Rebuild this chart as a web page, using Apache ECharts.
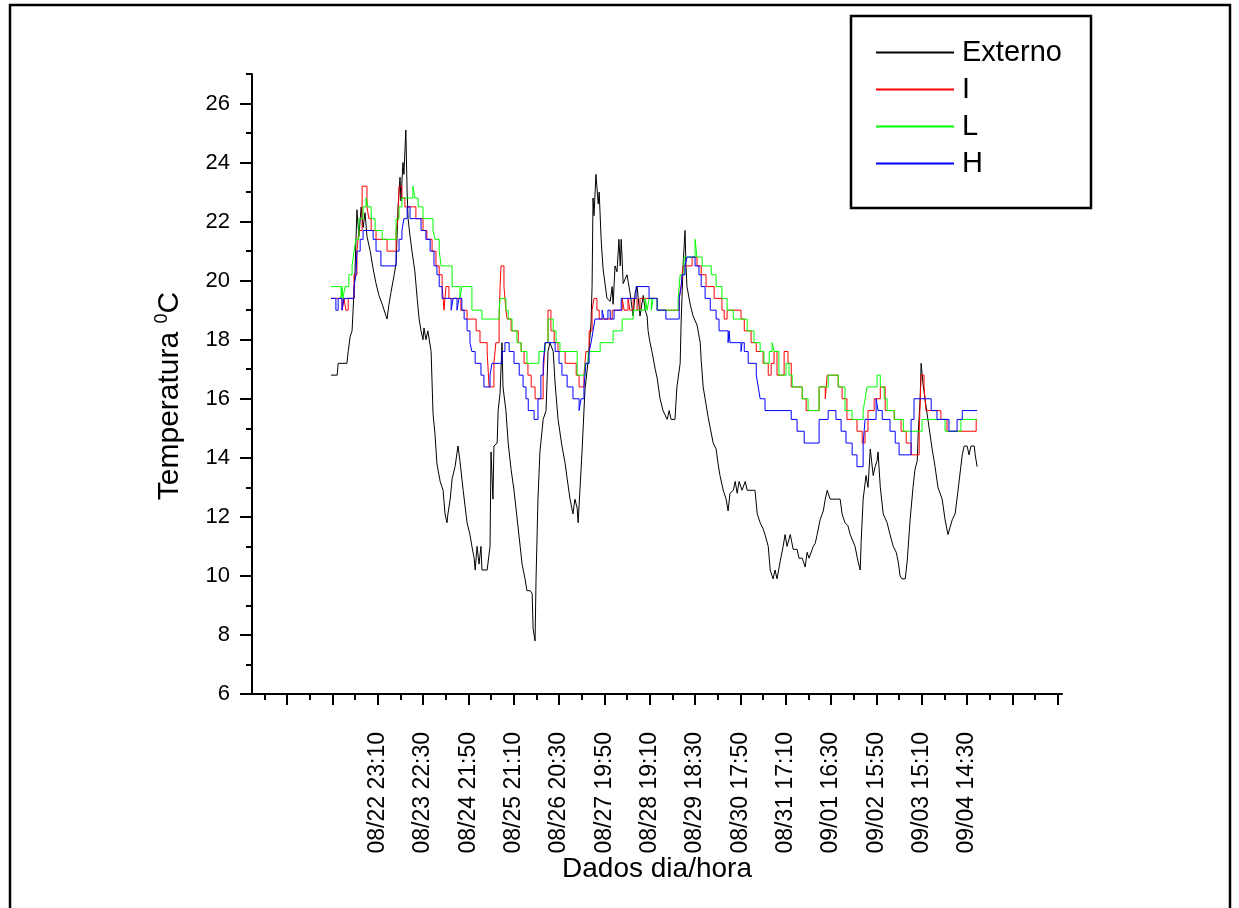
<!DOCTYPE html>
<html><head><meta charset="utf-8">
<script src="https://cdn.jsdelivr.net/npm/echarts@6/dist/echarts.min.js"></script>
<style>html,body{margin:0;padding:0;background:#fff}#c{width:1239px;height:908px}</style>
</head><body><div id="c"></div>
<script>
// x = sample index (10-minute samples); one labelled tick every 140 samples
const tickLabels = ["08/22 23:10","08/23 22:30","08/24 21:50","08/25 21:10","08/26 20:30","08/27 19:50","08/28 19:10","08/29 18:30","08/30 17:50","08/31 17:10","09/01 16:30","09/02 15:50","09/03 15:10","09/04 14:30"];
const labelTicks = [140,280,420,560,700,840,980,1120,1260,1400,1540,1680,1820,1960];
const majorTicksX = [-140,0,140,280,420,560,700,840,980,1120,1260,1400,1540,1680,1820,1960,2100,2240];
const minorTicksX = [-210,-70,70,210,350,490,630,770,910,1050,1190,1330,1470,1610,1750,1890,2030,2170];
const majorTicksY = [6,8,10,12,14,16,18,20,22,24,26];
const minorTicksY = [7,9,11,13,15,17,19,21,23,25,27];

const externo = [[-4,16.8],[15,16.8],[18,17.2],[45,17.2],[49,17.6],[55,18.1],[61,18.3],[70,20.3],[76,22.4],[82,21.5],[89,22.5],[95,21.8],[101,22.3],[107,21.5],[117,21.0],[126,20.4],[135,19.9],[144,19.5],[154,19.2],[163,18.9],[169,18.7],[175,19.2],[181,19.6],[191,20.2],[197,20.6],[203,22.5],[209,23.5],[212,22.7],[218,24.0],[221,23.6],[227,25.1],[231,23.0],[234,22.1],[240,21.5],[246,21.0],[255,20.3],[262,19.4],[268,18.7],[274,18.3],[280,18.0],[283,18.4],[289,18.0],[295,18.3],[305,17.6],[311,15.5],[317,14.8],[323,13.8],[333,13.2],[342,12.9],[348,12.1],[354,11.8],[357,12.1],[364,12.6],[370,13.3],[379,13.7],[388,14.4],[394,13.9],[404,12.9],[416,11.8],[425,11.4],[431,11.0],[438,10.6],[441,10.2],[447,11.0],[453,10.4],[459,11.0],[462,10.2],[478,10.2],[487,11.0],[490,14.2],[496,12.6],[499,14.4],[509,14.5],[512,15.6],[518,16.2],[524,17.9],[527,16.4],[536,15.6],[543,14.5],[552,13.6],[561,12.9],[570,12.0],[580,11.0],[586,10.4],[595,9.9],[601,9.5],[611,9.5],[617,9.4],[620,8.2],[626,7.8],[629,9.9],[635,12.6],[641,14.2],[651,15.3],[660,15.6],[666,17.6],[672,17.9],[682,17.6],[688,16.5],[697,15.3],[709,14.4],[719,13.8],[725,13.3],[734,12.6],[743,12.1],[749,12.6],[756,12.3],[759,11.8],[765,11.8],[771,14.2],[780,16.3],[790,17.3],[799,18.6],[802,19.8],[805,22.8],[808,22.2],[814,23.6],[821,22.6],[824,23.0],[830,21.4],[836,20.4],[842,19.9],[848,19.4],[858,19.3],[864,19.8],[867,19.2],[873,20.5],[879,20.3],[885,21.4],[889,20.5],[892,21.4],[895,20.7],[898,19.9],[910,20.2],[919,19.6],[929,18.8],[935,19.6],[941,19.8],[950,18.8],[960,19.5],[966,19.0],[972,18.8],[975,18.3],[981,17.9],[987,17.6],[997,17.0],[1003,16.7],[1012,16.0],[1021,15.6],[1034,15.3],[1040,15.6],[1046,15.3],[1058,15.3],[1064,16.4],[1074,17.2],[1077,18.6],[1083,20.5],[1089,21.7],[1092,20.5],[1095,19.8],[1105,19.2],[1114,18.8],[1126,18.5],[1136,17.9],[1139,17.3],[1145,16.4],[1151,16.0],[1160,15.4],[1167,15.0],[1176,14.5],[1185,14.3],[1191,13.8],[1197,13.4],[1207,12.9],[1216,12.6],[1222,12.2],[1228,12.8],[1238,12.9],[1244,13.2],[1250,12.8],[1256,13.2],[1265,12.9],[1275,13.2],[1281,12.9],[1296,12.9],[1305,12.9],[1312,12.1],[1321,11.8],[1330,11.6],[1336,11.4],[1346,11.0],[1352,10.2],[1361,9.9],[1367,10.2],[1373,9.9],[1383,10.5],[1392,11.0],[1398,11.4],[1404,11.0],[1414,11.4],[1423,10.9],[1435,10.9],[1441,10.6],[1451,10.6],[1460,10.3],[1466,10.8],[1472,10.6],[1485,11.0],[1491,11.1],[1497,11.4],[1506,11.9],[1516,12.2],[1522,12.6],[1528,12.9],[1537,12.6],[1568,12.6],[1574,12.1],[1583,11.8],[1592,11.7],[1599,11.4],[1614,11.0],[1623,10.5],[1630,10.2],[1633,11.2],[1639,12.6],[1648,13.4],[1654,13.0],[1661,14.3],[1670,13.4],[1676,13.7],[1682,13.9],[1685,14.2],[1692,13.0],[1701,12.1],[1713,11.8],[1722,11.4],[1732,11.0],[1741,10.8],[1747,10.5],[1753,10.0],[1759,9.9],[1769,9.9],[1775,10.5],[1784,11.9],[1793,13.0],[1799,13.6],[1806,13.9],[1809,14.8],[1815,16.0],[1818,17.2],[1824,16.5],[1830,16.0],[1839,15.3],[1852,14.3],[1861,13.7],[1870,13.0],[1883,12.6],[1892,11.9],[1901,11.4],[1914,11.9],[1923,12.1],[1932,12.9],[1945,14.1],[1951,14.4],[1960,14.4],[1966,14.1],[1972,14.4],[1982,14.4],[1985,14.1],[1991,13.7]];

// step series: each point = level starting at that sample
const serieI = [[-4,19.4],[30,19.0],[36,19.4],[42,19.0],[49,19.4],[67,20.2],[76,21.0],[82,21.7],[92,23.2],[107,22.5],[113,22.1],[120,21.7],[135,21.4],[169,21.0],[197,21.7],[203,22.1],[206,23.2],[215,22.8],[224,22.5],[258,22.1],[280,21.7],[292,21.4],[308,21.0],[320,20.5],[330,20.2],[339,19.8],[345,19.0],[351,19.8],[360,19.4],[397,19.0],[416,18.7],[444,18.3],[456,17.9],[478,17.6],[484,16.4],[499,17.2],[505,17.9],[515,18.7],[518,19.8],[521,20.5],[530,19.8],[536,19.0],[540,18.7],[552,18.3],[574,17.9],[583,17.6],[592,17.2],[604,16.8],[614,16.4],[626,16.0],[651,16.8],[657,17.9],[666,19.0],[675,18.3],[685,17.9],[697,17.6],[719,17.2],[753,16.8],[762,16.4],[777,16.8],[783,17.6],[793,18.3],[802,19.0],[808,19.4],[817,19.0],[824,18.7],[864,19.0],[895,19.4],[901,19.0],[913,19.4],[919,19.0],[929,19.4],[941,19.0],[950,19.4],[1003,19.0],[1071,19.4],[1077,19.8],[1083,20.5],[1111,20.8],[1126,20.5],[1139,20.2],[1154,19.8],[1179,19.4],[1203,19.0],[1210,18.7],[1219,19.0],[1262,18.7],[1272,18.3],[1293,17.9],[1309,17.6],[1330,17.2],[1346,16.8],[1355,17.2],[1364,17.6],[1373,16.8],[1395,17.6],[1407,17.2],[1417,16.4],[1451,16.0],[1463,15.6],[1503,16.4],[1522,16.0],[1528,16.8],[1562,16.4],[1574,16.0],[1589,15.3],[1620,14.9],[1636,14.5],[1645,14.9],[1654,15.6],[1673,16.0],[1692,16.4],[1707,15.6],[1735,15.3],[1756,14.9],[1772,14.5],[1787,14.1],[1812,14.9],[1818,16.8],[1827,16.4],[1833,15.6],[1879,15.3],[1898,14.9],[1988,15.3],[1991,15.3]];

const serieL = [[-4,19.8],[27,19.4],[30,19.8],[33,19.4],[39,19.8],[51,20.2],[61,20.5],[67,21.0],[73,21.4],[82,22.1],[95,22.5],[104,22.8],[110,22.5],[120,22.1],[132,21.7],[154,21.4],[197,22.1],[206,22.5],[215,22.8],[249,23.2],[255,22.8],[265,22.5],[280,22.1],[311,21.7],[317,21.4],[330,21.0],[336,20.5],[370,19.8],[394,19.4],[400,19.8],[431,19.0],[462,18.7],[515,19.0],[518,19.4],[536,19.0],[543,18.7],[555,18.3],[570,17.9],[583,17.6],[601,17.2],[638,17.6],[657,17.9],[666,18.7],[682,18.3],[691,17.9],[703,17.6],[756,16.8],[780,17.2],[790,17.6],[827,17.9],[867,18.3],[895,18.7],[929,19.0],[966,19.4],[972,19.0],[978,19.4],[985,19.0],[991,19.4],[1003,19.0],[1068,19.4],[1074,20.2],[1086,20.8],[1120,21.4],[1126,20.8],[1142,20.5],[1170,20.2],[1185,19.8],[1203,19.4],[1219,19.0],[1238,18.7],[1281,18.3],[1302,17.9],[1321,17.6],[1333,17.2],[1349,17.6],[1358,17.9],[1364,17.6],[1379,16.8],[1401,17.2],[1410,16.8],[1420,16.4],[1451,16.0],[1469,15.6],[1503,16.4],[1531,16.8],[1562,16.4],[1583,15.6],[1605,15.3],[1639,15.6],[1645,16.0],[1651,16.4],[1682,16.8],[1692,16.4],[1704,16.0],[1713,15.6],[1735,15.3],[1763,14.9],[1821,15.3],[1892,14.9],[1941,15.3],[1991,15.3]];

const serieH = [[-4,19.4],[11,19.0],[18,19.4],[30,19.0],[36,19.4],[67,19.8],[73,20.2],[76,21.0],[86,21.4],[95,21.7],[126,21.4],[135,21.0],[150,20.5],[197,21.0],[206,21.4],[215,21.7],[221,22.1],[231,22.5],[240,22.1],[274,21.7],[289,21.4],[302,21.0],[314,20.5],[323,20.2],[330,19.8],[339,19.4],[367,19.0],[373,19.4],[385,19.0],[391,19.4],[400,19.0],[407,18.7],[416,18.3],[425,17.9],[431,17.6],[441,17.2],[459,16.8],[468,16.4],[487,16.8],[493,17.2],[524,17.6],[533,17.9],[546,17.6],[561,17.2],[577,16.8],[589,16.4],[598,16.0],[605,15.6],[623,15.3],[635,16.0],[644,16.8],[651,17.2],[657,17.9],[688,17.6],[700,17.2],[709,16.8],[725,16.4],[743,16.0],[762,15.6],[768,16.0],[777,16.4],[783,17.2],[793,17.6],[799,17.9],[805,18.3],[811,18.7],[833,19.0],[839,18.7],[851,19.0],[858,18.7],[870,19.0],[892,19.4],[938,19.8],[978,19.4],[1003,19.0],[1030,18.7],[1071,19.4],[1077,19.8],[1080,20.2],[1089,20.5],[1095,20.8],[1120,20.5],[1132,20.2],[1139,19.8],[1151,19.4],[1167,19.0],[1185,18.7],[1194,18.3],[1222,17.9],[1225,18.3],[1228,17.9],[1262,17.6],[1265,17.9],[1272,17.6],[1284,17.2],[1309,16.8],[1315,16.4],[1321,16.0],[1336,15.6],[1417,15.3],[1435,14.9],[1457,14.5],[1503,15.3],[1531,15.6],[1555,15.3],[1571,14.9],[1586,14.5],[1605,14.1],[1620,13.7],[1639,14.5],[1645,15.3],[1679,16.0],[1685,15.6],[1698,15.3],[1722,14.9],[1738,14.5],[1750,14.1],[1787,15.3],[1796,16.0],[1849,15.6],[1867,15.3],[1904,14.9],[1929,15.3],[1945,15.6],[1991,15.6]];

const seriesNames = ['Externo','I','L','H'];
const seriesColors = ['#000000','#ff0000','#00ff00','#0000ff'];

const FONT = '"Liberation Sans", Arial, Helvetica, sans-serif';
const chart = echarts.init(document.getElementById('c'), null, {renderer:'canvas'});

function lineSeries(idx, data, step) {
  return {
    name: seriesNames[idx], type: 'line', data: data, step: step,
    xAxisIndex: 0, yAxisIndex: 0,
    showSymbol: false, symbol: 'none',
    lineStyle: {color: seriesColors[idx], width: 1},
    itemStyle: {color: seriesColors[idx]},
    animation: false
  };
}

const axisCommon = {
  splitLine: {show: false}
};

chart.setOption({
  animation: false,
  backgroundColor: '#ffffff',
  textStyle: {fontFamily: FONT},
  grid: {left: 252, right: 177, top: 74, bottom: 214, containLabel: false},
  legend: {
    data: seriesNames, orient: 'vertical', left: 876, top: 38, padding: 0,
    icon: 'rect', itemWidth: 78, itemHeight: 2, itemGap: 8,
    textStyle: {fontSize: 29, color: '#000', fontFamily: FONT, padding: [0,0,0,3]},
    selectedMode: false
  },
  xAxis: [
    Object.assign({}, axisCommon, {
      type: 'value', min: -248, max: 2253, position: 'bottom',
      axisLine: {show: true, onZero: false, lineStyle: {color: '#000', width: 2}},
      axisTick: {show: true, customValues: majorTicksX, length: 11, lineStyle: {color: '#000', width: 2}},
      axisLabel: {show: true, customValues: labelTicks, rotate: 90, margin: 38,
        fontSize: 23, color: '#000', fontFamily: FONT,
        formatter: function (v) { return tickLabels[Math.round(v / 140) - 1] || ''; }},
      name: 'Dados dia/hora', nameLocation: 'middle', nameGap: 161, nameMoveOverlap: false,
      nameTextStyle: {fontSize: 28, color: '#000', fontFamily: FONT}
    }),
    Object.assign({}, axisCommon, {
      type: 'value', min: -248, max: 2253, position: 'bottom',
      axisLine: {show: false, onZero: false},
      axisTick: {show: true, customValues: minorTicksX, length: 6, lineStyle: {color: '#000', width: 2}},
      axisLabel: {show: false}
    })
  ],
  yAxis: [
    Object.assign({}, axisCommon, {
      type: 'value', min: 6, max: 27, position: 'left',
      axisLine: {show: true, onZero: false, lineStyle: {color: '#000', width: 2}},
      axisTick: {show: true, customValues: majorTicksY, length: 12, lineStyle: {color: '#000', width: 2}},
      axisLabel: {show: true, customValues: majorTicksY, margin: 22, fontSize: 22, color: '#000', fontFamily: FONT},
      name: 'Temperatura {sup|0}C', nameLocation: 'middle', nameGap: 65, nameRotate: 90, nameMoveOverlap: false,
      nameTextStyle: {fontSize: 30, color: '#000', fontFamily: FONT, lineHeight: 34, padding: [0, 24, 0, 0],
        rich: {sup: {fontSize: 18, lineHeight: 18, verticalAlign: 'top', color: '#000', fontFamily: FONT}}}
    }),
    Object.assign({}, axisCommon, {
      type: 'value', min: 6, max: 27, position: 'left',
      axisLine: {show: false, onZero: false},
      axisTick: {show: true, customValues: minorTicksY, length: 6, lineStyle: {color: '#000', width: 2}},
      axisLabel: {show: false}
    })
  ],
  graphic: [
    {type: 'rect', shape: {x: 10, y: 5, width: 1220, height: 930}, style: {fill: 'none', stroke: '#000', lineWidth: 2.5}, silent: true, z: 100},
    {type: 'rect', shape: {x: 851, y: 16, width: 240, height: 192}, style: {fill: 'none', stroke: '#000', lineWidth: 2.5}, silent: true, z: 100}
  ],
  series: [
    lineSeries(0, externo, false),
    lineSeries(1, serieI, 'end'),
    lineSeries(2, serieL, 'end'),
    lineSeries(3, serieH, 'end')
  ]
});
</script>
</body></html>
